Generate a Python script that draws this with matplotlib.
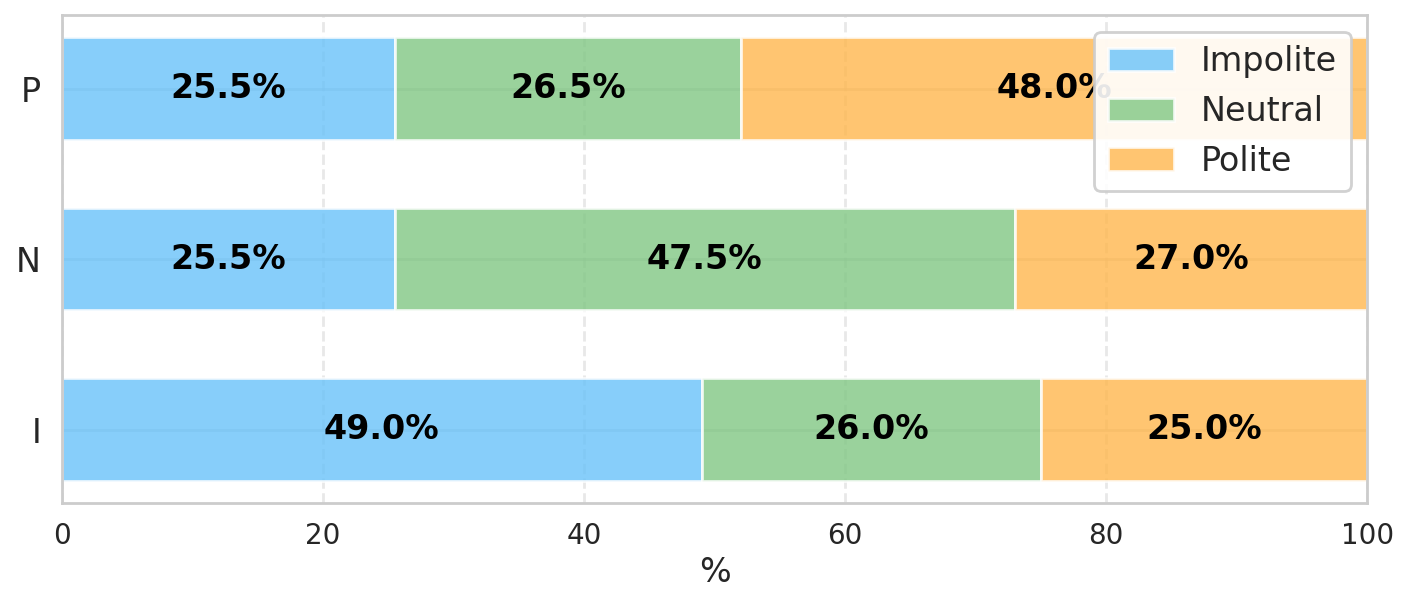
import matplotlib
matplotlib.use("Agg")
import matplotlib.pyplot as plt
import seaborn as sns
import numpy as np

sns.set_theme(style="whitegrid")
plt.rcParams['font.family'] = ['DejaVu Sans']

categories = ["I", "N", "P"]
series_names = ["Impolite", "Neutral", "Polite"]
impolite = [49.0, 25.5, 25.5]
neutral = [26.0, 47.5, 26.5]
polite = [25.0, 27.0, 48.0]
colors = ["#69C2F9", "#81C784", "#FFB74D"]

fig = plt.figure(figsize=(7.04, 3.04), dpi=200)
ax = fig.add_axes([0.044, 0.173, 0.927, 0.802])

y = np.arange(len(categories))
left = np.zeros(len(categories))
for name, vals, c in zip(series_names, [impolite, neutral, polite], colors):
    vals = np.array(vals)
    ax.barh(y, vals, left=left, height=0.6, color=c, alpha=0.8,
            edgecolor="white", linewidth=1, label=name)
    for yi, l, v in zip(y, left, vals):
        ax.text(l + v / 2, yi, f"{v:.1f}%", ha="center", va="center",
                fontsize=12, fontweight="bold", color="black")
    left += vals

ax.set_xlim(0, 100)
ax.set_yticks(y)
ax.set_yticklabels(categories, fontsize=12)
ax.set_xticks([0, 20, 40, 60, 80, 100])
ax.tick_params(axis="x", labelsize=10, length=0, pad=7)
ax.tick_params(axis="y", length=0, pad=7.5)
ax.set_xlabel("%", fontsize=12, labelpad=2)
ax.grid(axis="x", linestyle="--", alpha=0.45)
ax.grid(axis="y", alpha=0.6)
for s in ax.spines.values():
    s.set_color("#cccccc")
    s.set_linewidth(1.0)
ax.set_axisbelow(True)
leg = ax.legend(loc="upper right", fontsize=12, framealpha=0.9)
fig.savefig("out.png", dpi=200)
